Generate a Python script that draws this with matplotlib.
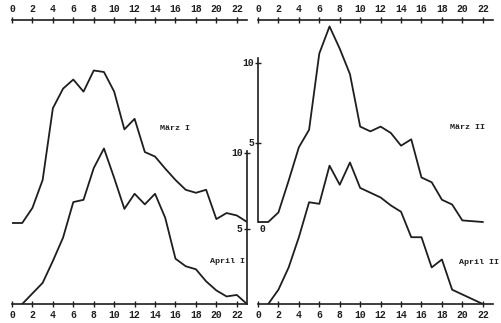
import numpy as np
import matplotlib
matplotlib.use('Agg')
import matplotlib.pyplot as plt

# hourly values (hour 0..23)
hours = list(range(24))
maerz1 = [0, 0, 1.0, 2.85, 7.6, 8.9, 9.5, 8.7, 10.1, 10.0, 8.7, 6.2, 6.9, 4.7,
          4.4, 3.6, 2.85, 2.2, 2.0, 2.2, 0.26, 0.66, 0.5, 0.07]
april1_hours = list(range(1, 24))
april1 = [0, 0.7, 1.4, 2.85, 4.4, 6.75, 6.9, 9.0, 10.3, 8.35, 6.3, 7.3, 6.6,
          7.3, 5.7, 3.0, 2.5, 2.3, 1.5, 0.9, 0.5, 0.6, 0]
maerz2_hours = list(range(23))
maerz2 = [0, 0, 0.6, 2.6, 4.7, 5.8, 10.6, 12.3, 10.9, 9.3, 6.0, 5.7, 6.0, 5.6,
          4.8, 5.2, 2.8, 2.5, 1.4, 1.1, 0.1, 0.05, 0]
april2_hours = list(range(1, 23))
april2 = [0, 0.9, 2.3, 4.2, 6.4, 6.3, 8.7, 7.5, 8.9, 7.3, 7.0, 6.7, 6.2, 5.8,
          4.2, 4.2, 2.3, 2.8, 0.9, 0.6, 0.3, 0]
hour_ticks = list(range(0, 23, 2))

W, H = 502, 323
INK = '#1e1e1e'
FONT = dict(family='Liberation Mono', weight='bold', color=INK)

fig = plt.figure(figsize=(W / 100, H / 100), dpi=100)
fig.patch.set_facecolor('white')


def make_panel(x0, x1, scale):
    # x0, x1: pixel positions of hour 0 and hour 23
    left = x0 / W
    width = (x1 - x0) / W
    bottom = (H - 304) / H
    top = (H - 20) / H
    ax = fig.add_axes([left, bottom, width, top - bottom])
    ax.set_xlim(0, 23)
    ax.set_ylim(0, (304 - 20) / scale)
    ax.patch.set_alpha(0)
    for s in ax.spines.values():
        s.set_color(INK)
        s.set_linewidth(1.2)
    ax.set_xticks(hour_ticks)
    ax.set_xticklabels([str(h) for h in hour_ticks], fontsize=7, **FONT)
    ax.tick_params(axis='x', which='both', top=True, bottom=True,
                   labeltop=True, labelbottom=True, direction='inout',
                   length=4, width=1.0, color=INK, pad=2)
    ax.set_yticks([])
    return ax


# left panel
ax1 = make_panel(12, 247, 15.1)
off1 = (304 - 223) / 15.1
ax1.spines['left'].set_visible(False)
ax1.spines['right'].set_bounds(0, 10.1)
ax1.plot(hours, np.array(maerz1) + off1, color=INK, lw=1.3)
ax1.plot(april1_hours, april1, color=INK, lw=1.3)
for v in [5, 10]:
    ax1.plot([23], [v], marker='_', color=INK, ms=4, mew=1, clip_on=False)
    ax1.text(22.6, v, str(v), ha='right', va='center', fontsize=7, **FONT)
ax1.text(16.0, 11.65, 'März I', ha='center', va='center', fontsize=6, **FONT)
ax1.text(22.8, 2.8, 'April I', ha='right', va='center', fontsize=6, **FONT)

# right panel
ax2 = make_panel(258, 493, 15.9)
off2 = (304 - 222) / 15.9
ax2.spines['right'].set_visible(False)
ax2.spines['left'].set_bounds(off2, off2 + 10.3)
ax2.plot(maerz2_hours, np.array(maerz2) + off2, color=INK, lw=1.3)
ax2.plot(april2_hours, april2, color=INK, lw=1.3)
for v in [5, 10]:
    ax2.plot([0], [off2 + v], marker='_', color=INK, ms=4, mew=1, clip_on=False)
    ax2.text(-0.35, off2 + v, str(v), ha='right', va='center', fontsize=7, **FONT)
ax2.text(0.15, off2 - 0.15, '0', ha='left', va='top', fontsize=7, **FONT)
ax2.text(20.5, 11.07, 'März II', ha='center', va='center', fontsize=6, **FONT)
ax2.text(23.6, 2.64, 'April II', ha='right', va='center', fontsize=6, **FONT,
         clip_on=False)

fig.savefig('out.png', dpi=100, facecolor='white')
